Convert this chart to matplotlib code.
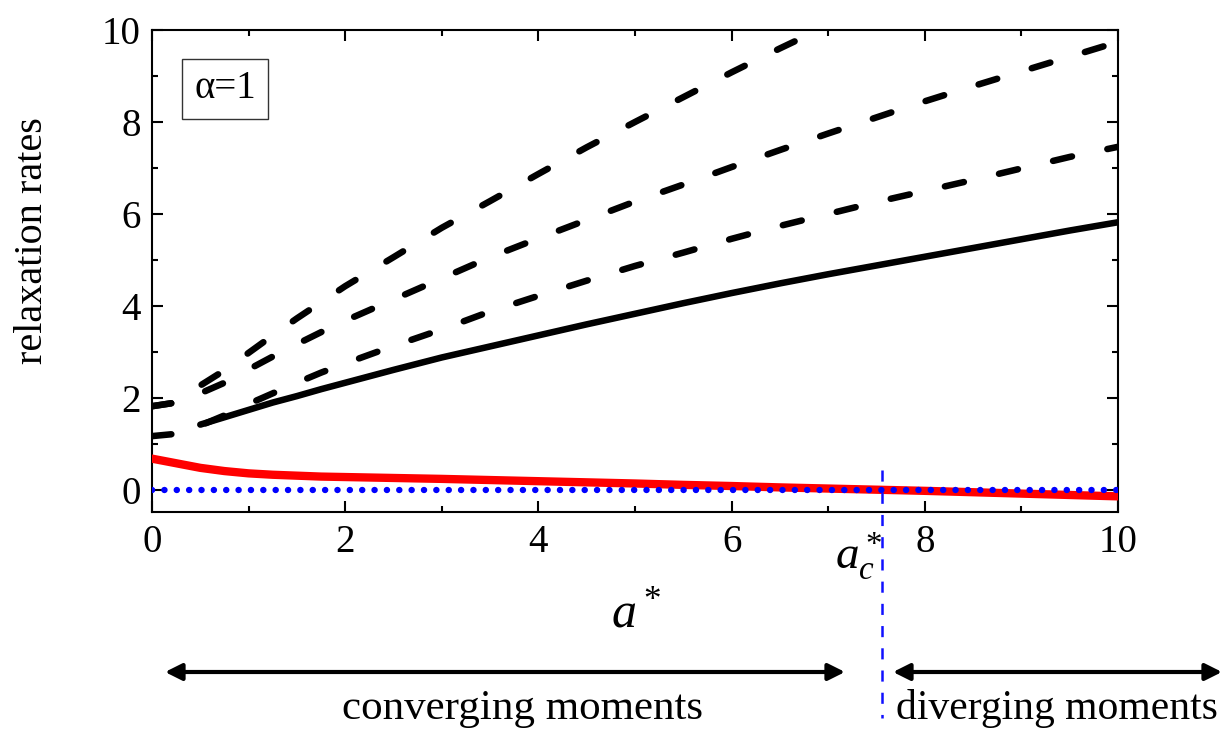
import matplotlib
matplotlib.use('Agg')
import matplotlib.pyplot as plt
from matplotlib.patches import FancyArrowPatch
from matplotlib.lines import Line2D
import matplotlib.transforms as mtransforms
from matplotlib.ticker import MultipleLocator

plt.rcParams['font.family'] = ['Liberation Serif', 'DejaVu Serif']
plt.rcParams['mathtext.fontset'] = 'custom'
plt.rcParams['mathtext.rm'] = 'Liberation Serif'
plt.rcParams['mathtext.it'] = 'Liberation Serif:italic'
plt.rcParams['lines.scale_dashes'] = False

# ---------------- data ----------------
a_grid = [0, 0.25, 0.5, 0.75, 1.0, 1.25, 1.5, 1.75, 2.0, 2.5, 3.0, 3.5, 4.0, 4.5,
          5.0, 5.5, 6.0, 6.5, 7.0, 7.5, 8.0, 8.5, 9.0, 9.5, 10.0]

a_solid = [0.5, 0.75, 1.0, 1.25, 1.5, 1.75, 2.0, 2.5, 3.0, 3.5, 4.0, 4.5, 5.0, 5.5,
           6.0, 6.5, 7.0, 7.5, 8.0, 8.5, 9.0, 9.5, 10.0]
rate_solid = [1.42, 1.58, 1.74, 1.90, 2.04, 2.19, 2.33, 2.61, 2.88, 3.12, 3.36, 3.60,
              3.83, 4.06, 4.28, 4.49, 4.69, 4.88, 5.07, 5.26, 5.45, 5.64, 5.82]

rate_dash1 = [1.17, 1.22, 1.40, 1.62, 1.87, 2.10, 2.33, 2.55, 2.75, 3.13, 3.49, 3.88,
              4.22, 4.55, 4.87, 5.16, 5.46, 5.74, 6.00, 6.26, 6.50, 6.74, 6.99, 7.24, 7.46]
rate_dash2 = [1.82, 1.90, 2.10, 2.33, 2.62, 2.90, 3.17, 3.43, 3.68, 4.14, 4.60, 5.06,
              5.47, 5.87, 6.27, 6.64, 7.02, 7.39, 7.75, 8.10, 8.45, 8.78, 9.10, 9.42, 9.74]

a_dash3 = [0, 0.25, 0.5, 0.75, 1.0, 1.25, 1.5, 1.75, 2.0, 2.5, 3.0, 3.5, 4.0, 4.5,
           5.0, 5.5, 6.0, 6.5, 7.0, 7.5]
rate_dash3 = [1.82, 1.90, 2.27, 2.60, 2.98, 3.36, 3.73, 4.08, 4.43, 5.06, 5.70, 6.28,
              6.87, 7.45, 8.00, 8.54, 9.08, 9.60, 10.10, 10.60]

rate_red = [0.68, 0.58, 0.48, 0.41, 0.36, 0.33, 0.31, 0.29, 0.28, 0.26, 0.24, 0.215,
            0.19, 0.165, 0.14, 0.11, 0.085, 0.055, 0.03, 0.005, -0.02, -0.05, -0.08,
            -0.11, -0.14]

zero_x = [0, 10]
zero_y = [0, 0]

a_crit = 7.56

x_ticks = [0, 2, 4, 6, 8, 10]
y_ticks = [0, 2, 4, 6, 8, 10]

# ---------------- figure ----------------
W, H = 1227, 732
fig = plt.figure(figsize=(W / 100, H / 100), dpi=100)
ax = fig.add_axes([152 / W, 1 - 512 / H, (1118 - 152) / W, (512 - 30) / H])

dash_style = (0, (14, 26))
for yy, xx in ((rate_dash1, a_grid), (rate_dash2, a_grid), (rate_dash3, a_dash3)):
    ax.plot(xx, yy, color='black', lw=4.7, ls=dash_style,
            dash_capstyle='round', zorder=2)
ax.plot(a_solid, rate_solid, color='black', lw=4.7, solid_capstyle='round', zorder=3)
ax.plot(a_grid, rate_red, color='#ff0000', lw=6, zorder=4)
ax.plot(zero_x, zero_y, color='#0000ff', lw=4.6, ls=(0, (0.1, 8.8)),
        dash_capstyle='round', zorder=5)

ax.set_xlim(0, 10)
ax.set_ylim(-0.48, 10)
ax.set_xticks(x_ticks)
ax.set_yticks(y_ticks)
ax.xaxis.set_minor_locator(MultipleLocator(1))
ax.yaxis.set_minor_locator(MultipleLocator(1))
ax.tick_params(which='both', direction='in', top=True, right=True, width=1.5,
               labelsize=28)
ax.tick_params(which='major', length=8)
ax.tick_params(which='minor', length=4.5)
ax.tick_params(axis='x', pad=9)
ax.tick_params(axis='y', pad=8)
for s in ax.spines.values():
    s.set_linewidth(1.5)

# critical line extending below axes
trans = mtransforms.blended_transform_factory(ax.transData, fig.transFigure)
vline = Line2D([a_crit, a_crit], [1 - 470 / H, 1 - 718 / H], transform=trans,
               color='#1010ff', lw=1.8, ls=(0, (8, 8)))
fig.add_artist(vline)

# labels
fig.text(33 / W, 1 - 241 / H, 'relaxation rates', rotation=90, fontsize=29,
         ha='center', va='center')
fig.text(636 / W, 1 - 614 / H, r'$a^*$', fontsize=36, ha='center', va='center')
fig.text(859 / W, 1 - 556 / H, r'$a_c^*$', fontsize=34, ha='center', va='center')

fig.text(225 / W, 1 - 89 / H, 'α=1', fontsize=28, ha='center', va='center',
         bbox=dict(boxstyle='square,pad=0.3', fc='white', ec='#333333', lw=1))

# arrows
for x0, x1 in ((165, 845), (893, 1222)):
    arr = FancyArrowPatch((x0 / W, 60 / H), (x1 / W, 60 / H),
                          transform=fig.transFigure,
                          arrowstyle='<|-|>,head_length=0.4,head_width=0.2',
                          mutation_scale=25, lw=3, color='black',
                          shrinkA=0, shrinkB=0)
    fig.add_artist(arr)

fig.text(522 / W, 1 - 709 / H, 'converging moments', fontsize=31,
         ha='center', va='center')
fig.text(1057 / W, 1 - 709 / H, 'diverging moments', fontsize=30,
         ha='center', va='center')

fig.savefig('out.png', dpi=100)
